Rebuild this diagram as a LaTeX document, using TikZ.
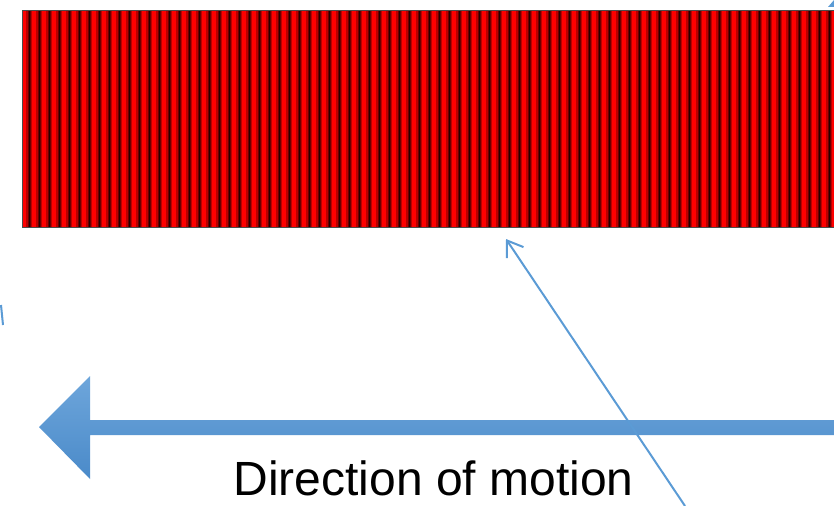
\documentclass[tikz,border=0pt]{standalone}
\usepackage{fontspec}
\setmainfont{Liberation Sans}
\usetikzlibrary{arrows.meta}
\definecolor{moveblue}{HTML}{5B9BD5}
\definecolor{moveblueL}{HTML}{6EA6DB}
\definecolor{moveblueD}{HTML}{4A8AC9}
\tikzset{
  pointer/.style={draw=moveblue, line width=1.5pt, -{Straight Barb[length=11pt, width=15pt, line width=1.5pt]}},
  caption/.style={font=\fontsize{36}{42}\selectfont, anchor=base, inner sep=0pt}
}

\begin{document}
\begin{tikzpicture}[x=0.75pt, y=-0.75pt]
    \useasboundingbox (0,0) rectangle (834,506);
    \clip (0,0) rectangle (834,506);
    % striped plate
    \fill[red] (22,11) rectangle (840,227);
    \foreach \i in {0,...,81} {
        \fill[red!72!black] ({22+10*\i+4},11) rectangle ({22+10*\i+10},227);
        \fill[red!42!black] ({22+10*\i+5.5},11) rectangle ({22+10*\i+8.5},227);
        \fill[black!85!red] ({22+10*\i+6.5},11) rectangle ({22+10*\i+7.5},227);
    }
    \draw[gray!60!black, line width=0.75pt] (22,11) rectangle (840,227);
    % direction arrow
    \shade[top color=moveblueL, bottom color=moveblueD]
        (39,427) -- (90,376) -- (90,420) -- (834,420) -- (834,435)
        -- (90,435) -- (90,479) -- cycle;
    \node[caption] (motion) at (433.5,495) {Direction of motion};
    % pointer line
    \coordinate (tail) at (685,506);
    \coordinate (plate) at (506,239);
    \draw[pointer] (tail) -- (plate);
    % cut-off marks at the edges
    \coordinate (edgeA) at (1,305);
    \coordinate (edgeB) at (3,325);
    \draw[moveblue, line width=1.5pt] (edgeA) -- (edgeB);
    \fill[moveblue] (828,7) -- (834,0) -- (834,7) -- cycle;
\end{tikzpicture}
\end{document}
